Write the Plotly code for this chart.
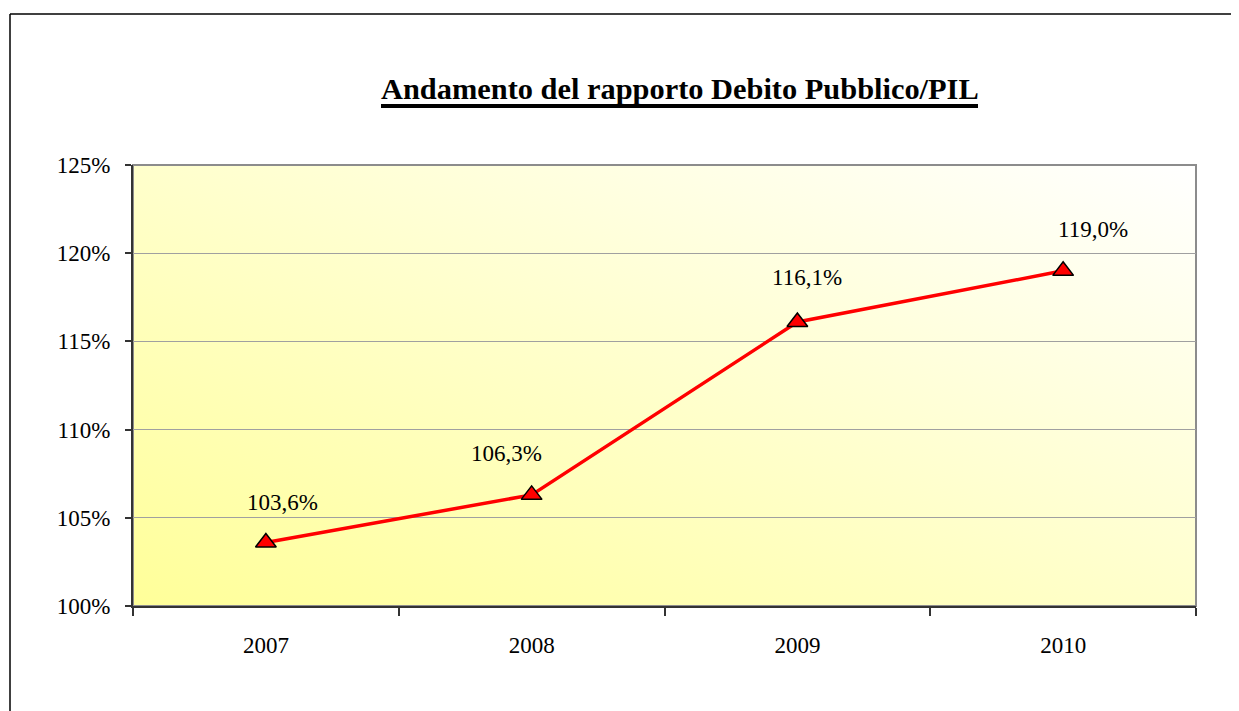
import base64
import plotly.graph_objects as go

# ---- data ----
years = ["2007", "2008", "2009", "2010"]
ratio = [103.6, 106.3, 116.1, 119.0]
y_ticks = [100, 105, 110, 115, 120, 125]
title_text = "Andamento del rapporto Debito Pubblico/PIL"

# label offsets (style only)
label_xshift = [17, -25, 10, 30]
label_yshift = [40, 41, 45, 41]

labels = [f"{v:.1f}%".replace(".", ",") for v in ratio]

FONT = "Liberation Serif, Times New Roman, serif"

# gradient background as SVG data URI
svg = (
    '<svg xmlns="http://www.w3.org/2000/svg" width="100" height="100" '
    'viewBox="0 0 100 100" preserveAspectRatio="none">'
    '<defs><linearGradient id="g" x1="0" y1="1" x2="1" y2="0">'
    '<stop offset="0" stop-color="#FFFF99"/>'
    '<stop offset="0.5" stop-color="#FFFFCC"/>'
    '<stop offset="1" stop-color="#FFFFFF"/>'
    '</linearGradient></defs>'
    '<rect width="100" height="100" fill="url(#g)"/></svg>'
)
svg_uri = "data:image/svg+xml;base64," + base64.b64encode(svg.encode()).decode()

# page body has an 8px margin: figure is drawn offset by (8, 8)
OFF = 8
W, H = 1239 - OFF, 711 - OFF
L, T = 133 - OFF, 165 - OFF
R = W - (1196 - OFF)
B = H - (606 - OFF)
pw, ph = W - L - R, H - T - B


def px(xp):
    return (xp - OFF - L) / pw


def py(yp):
    return (H - B - (yp - OFF)) / ph


fig = go.Figure()
fig.add_trace(go.Scatter(
    x=years, y=ratio, mode="lines+markers",
    line=dict(color="#FF0000", width=3.5),
    marker=dict(symbol="triangle-up", size=18, color="#FF0000",
                line=dict(color="#000000", width=1.5)),
    hoverinfo="skip", showlegend=False,
))

for i, (v, lab) in enumerate(zip(ratio, labels)):
    fig.add_annotation(x=i, y=v, text=lab, showarrow=False,
                       xshift=label_xshift[i], yshift=label_yshift[i],
                       font=dict(family=FONT, size=23, color="#000000"))

# title
fig.add_annotation(xref="paper", yref="paper", x=px(679.5), y=py(89),
                   xanchor="center", yanchor="middle",
                   text=f"<b>{title_text}</b>", showarrow=False,
                   font=dict(family=FONT, size=30.4, color="#000000"))

shapes = [
    # title underline
    dict(type="line", xref="paper", yref="paper", x0=px(381), x1=px(978),
         y0=py(106), y1=py(106), line=dict(color="#000000", width=4)),
    # plot area frame
    dict(type="rect", xref="paper", yref="paper", x0=0, x1=1, y0=0, y1=1,
         line=dict(color="#8C8C8C", width=2), layer="below"),
    # outer chart border
    dict(type="line", xref="paper", yref="paper", x0=px(10), x1=px(10),
         y0=py(14), y1=py(760), line=dict(color="#000000", width=1.5)),
    dict(type="line", xref="paper", yref="paper", x0=px(10), x1=px(1232),
         y0=py(14), y1=py(14), line=dict(color="#000000", width=1.5)),
    dict(type="line", xref="paper", yref="paper", x0=px(1232), x1=px(1232),
         y0=py(14), y1=py(760), line=dict(color="#000000", width=1.5)),
]

fig.update_layout(
    width=W, height=H,
    margin=dict(l=L, r=R, t=T, b=B, autoexpand=False),
    paper_bgcolor="#FFFFFF",
    plot_bgcolor="rgba(0,0,0,0)",
    font=dict(family=FONT, size=23, color="#000000"),
    shapes=shapes,
    images=[dict(source=svg_uri, xref="paper", yref="paper", x=0, y=1,
                 sizex=1, sizey=1, sizing="stretch", layer="below",
                 xanchor="left", yanchor="top")],
    xaxis=dict(type="category", range=[-0.5, 3.5], tickson="boundaries",
               ticks="outside", ticklen=8, tickcolor="#333333", tickwidth=1.5,
               showline=True, linecolor="#333333", linewidth=2,
               showgrid=False, zeroline=False,
               tickfont=dict(family=FONT, size=23), ticklabelstandoff=17),
    yaxis=dict(range=[100, 125], tickvals=y_ticks,
               ticktext=[f"{t}%" for t in y_ticks],
               ticks="outside", ticklen=6, tickcolor="#333333", tickwidth=1.5,
               showline=True, linecolor="#333333", linewidth=2,
               showgrid=True, gridcolor="#A0A0A0", gridwidth=1,
               zeroline=False, tickfont=dict(family=FONT, size=23),
               ticklabelstandoff=10),
)

fig.write_html("out.html")
